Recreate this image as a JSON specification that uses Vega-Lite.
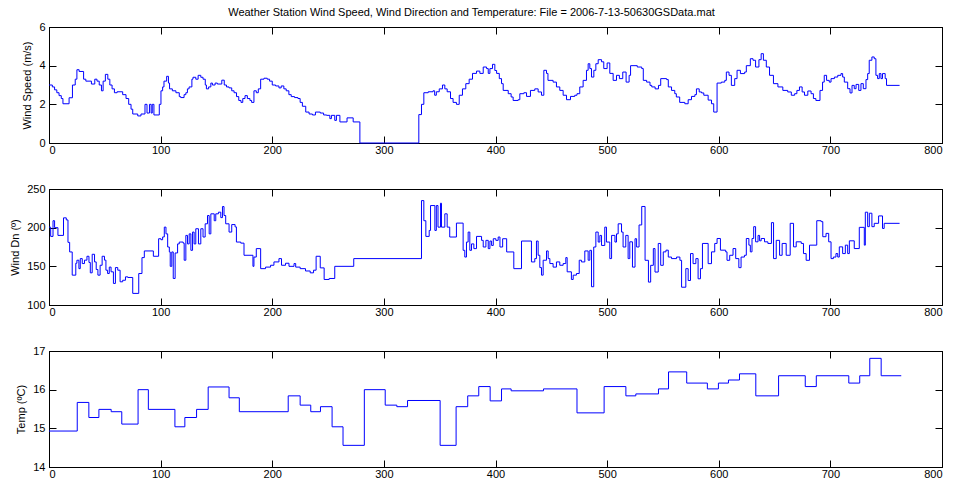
{
  "$schema": "https://vega.github.io/schema/vega-lite/v6.json",
  "autosize": {"type": "none"},
  "padding": {"left": 49, "top": 27, "right": 12, "bottom": 457},
  "background": "white",
  "title": {"text": "Weather Station Wind Speed, Wind Direction and Temperature:   File = 2006-7-13-50630GSData.mat", "fontSize": 11, "font": "Liberation Sans", "fontWeight": "normal", "color": "black", "anchor": "middle", "dx": -24, "offset": 3, "frame": "group"},
  "spacing": 26,
  "config": {
    "view": {"stroke": "black", "strokeWidth": 1},
    "axis": {"domainColor": "black", "tickColor": "black", "labelColor": "black", "labelFont": "Liberation Sans", "labelFontSize": 11, "titleFont": "Liberation Sans", "titleFontSize": 11, "titleFontWeight": "normal", "titleColor": "black", "grid": false, "tickSize": -7, "labelPadding": 11, "titlePadding": 6, "domainWidth": 1, "tickWidth": 1},
    "axisX": {"labelPadding": 8}
  },
  "datasets": {
    "speed": [
      {"t":0,"v":3.0},{"t":3,"v":2.9},{"t":5,"v":2.75},{"t":7,"v":2.6},{"t":9,"v":2.45},{"t":11,"v":2.3},{"t":12.5,"v":2.03},{"t":18,"v":2.34},{"t":21,"v":3.0},{"t":23.5,"v":3.3},{"t":25,"v":3.79},{"t":27,"v":3.7},{"t":31,"v":3.3},{"t":33,"v":3.2},{"t":38,"v":3.05},{"t":41,"v":3.3},{"t":43,"v":3.2},{"t":45,"v":3.0},{"t":47,"v":2.7},{"t":48.5,"v":3.2},{"t":50.5,"v":3.55},{"t":52.7,"v":3.3},{"t":54.5,"v":3.0},{"t":56.5,"v":2.8},{"t":58.6,"v":2.6},{"t":61,"v":2.65},{"t":66,"v":2.5},{"t":69,"v":2.3},{"t":71.4,"v":2.0},{"t":73.5,"v":1.75},{"t":75,"v":1.5},{"t":79.5,"v":1.4},{"t":82.4,"v":1.5},{"t":86,"v":2.0},{"t":87.8,"v":1.55},{"t":90,"v":2.0},{"t":91.5,"v":1.55},{"t":92.5,"v":2.0},{"t":94,"v":1.45},{"t":98.8,"v":2.0},{"t":100.3,"v":2.7},{"t":101.8,"v":2.9},{"t":103,"v":3.2},{"t":105.4,"v":3.45},{"t":107,"v":3.1},{"t":108,"v":2.8},{"t":110.5,"v":2.7},{"t":113.7,"v":2.6},{"t":116.7,"v":2.4},{"t":118,"v":2.35},{"t":121,"v":2.5},{"t":122.6,"v":2.6},{"t":124,"v":2.8},{"t":125.5,"v":2.9},{"t":128,"v":3.3},{"t":129,"v":3.4},{"t":131.5,"v":3.3},{"t":133.6,"v":3.5},{"t":136,"v":3.4},{"t":138,"v":3.3},{"t":140,"v":3.0},{"t":141,"v":2.8},{"t":143,"v":2.9},{"t":145,"v":3.1},{"t":146.4,"v":3.0},{"t":148.8,"v":3.1},{"t":150.8,"v":3.05},{"t":154.8,"v":3.25},{"t":157,"v":3.0},{"t":159,"v":2.9},{"t":161.3,"v":2.85},{"t":163.7,"v":2.7},{"t":165.8,"v":2.6},{"t":168,"v":2.4},{"t":170,"v":2.2},{"t":172,"v":2.1},{"t":173.6,"v":2.3},{"t":175.6,"v":2.45},{"t":177.7,"v":2.3},{"t":180,"v":2.2},{"t":181.5,"v":2.1},{"t":183.6,"v":2.7},{"t":185.7,"v":2.6},{"t":187.5,"v":2.8},{"t":189.6,"v":3.3},{"t":192.6,"v":3.35},{"t":195.5,"v":3.3},{"t":197.6,"v":3.2},{"t":200,"v":3.0},{"t":203,"v":2.95},{"t":206,"v":2.85},{"t":208,"v":2.95},{"t":210.4,"v":2.8},{"t":212.5,"v":2.7},{"t":214.9,"v":2.5},{"t":217,"v":2.4},{"t":220,"v":2.35},{"t":223,"v":2.3},{"t":225,"v":2.1},{"t":227,"v":1.9},{"t":230,"v":1.6},{"t":233,"v":1.5},{"t":236,"v":1.45},{"t":238.7,"v":1.6},{"t":243,"v":1.55},{"t":246,"v":1.45},{"t":248.7,"v":1.43},{"t":251.6,"v":1.26},{"t":253,"v":1.43},{"t":256,"v":1.17},{"t":257.5,"v":1.43},{"t":260.6,"v":1.09},{"t":267,"v":1.3},{"t":272.5,"v":1.09},{"t":278.5,"v":0},{"t":331.3,"v":1.47},{"t":333.7,"v":2.0},{"t":335.8,"v":2.6},{"t":339.7,"v":2.65},{"t":344,"v":2.7},{"t":345.5,"v":2.47},{"t":347,"v":2.65},{"t":349.6,"v":2.8},{"t":352.5,"v":3.0},{"t":354.6,"v":2.8},{"t":356.7,"v":2.65},{"t":359.7,"v":2.3},{"t":362,"v":2.1},{"t":365,"v":2.0},{"t":367.5,"v":2.47},{"t":370.4,"v":2.8},{"t":373.4,"v":3.07},{"t":376.4,"v":3.3},{"t":379.4,"v":3.6},{"t":383,"v":3.72},{"t":386,"v":3.6},{"t":389,"v":3.93},{"t":392,"v":3.85},{"t":393.5,"v":3.6},{"t":395,"v":3.85},{"t":397.3,"v":4.07},{"t":399.4,"v":3.75},{"t":401,"v":3.6},{"t":403.4,"v":3.33},{"t":405.4,"v":3.07},{"t":406.9,"v":2.72},{"t":411.4,"v":2.55},{"t":414,"v":2.38},{"t":415.8,"v":2.2},{"t":420.3,"v":2.24},{"t":421.8,"v":2.55},{"t":425.4,"v":2.6},{"t":427.8,"v":2.41},{"t":431.3,"v":2.72},{"t":435.2,"v":2.8},{"t":438.2,"v":2.64},{"t":441.2,"v":2.47},{"t":443.3,"v":3.76},{"t":445.7,"v":3.6},{"t":447,"v":3.24},{"t":451.6,"v":3.15},{"t":454.6,"v":2.9},{"t":457.6,"v":2.72},{"t":460.6,"v":2.47},{"t":463.6,"v":2.24},{"t":467.2,"v":2.41},{"t":471,"v":2.47},{"t":473,"v":2.55},{"t":475.5,"v":2.9},{"t":478.5,"v":3.24},{"t":481.5,"v":3.76},{"t":483,"v":4.1},{"t":484.5,"v":3.85},{"t":486,"v":3.41},{"t":488.1,"v":3.76},{"t":489.9,"v":4.1},{"t":492,"v":4.31},{"t":495,"v":4.2},{"t":497,"v":3.85},{"t":500,"v":4.14},{"t":502.4,"v":3.6},{"t":505.4,"v":3.24},{"t":508.4,"v":3.5},{"t":511,"v":3.33},{"t":514,"v":3.67},{"t":517,"v":3.15},{"t":519.7,"v":3.5},{"t":521,"v":4.0},{"t":527,"v":3.93},{"t":531,"v":3.85},{"t":532.4,"v":3.24},{"t":535.4,"v":3.15},{"t":538.4,"v":2.98},{"t":540,"v":2.9},{"t":543,"v":2.8},{"t":546,"v":2.98},{"t":548,"v":3.33},{"t":553.3,"v":3.28},{"t":554.8,"v":2.9},{"t":557.7,"v":2.72},{"t":560.6,"v":2.55},{"t":562,"v":2.38},{"t":565,"v":2.1},{"t":569.6,"v":2.03},{"t":572.6,"v":2.24},{"t":575.6,"v":2.41},{"t":578.6,"v":2.5},{"t":580,"v":2.8},{"t":582.5,"v":2.64},{"t":584.6,"v":2.59},{"t":586.6,"v":2.47},{"t":590.5,"v":2.22},{"t":593.5,"v":2.03},{"t":595.5,"v":1.6},{"t":598.5,"v":3.1},{"t":602.3,"v":3.15},{"t":605.4,"v":3.24},{"t":606.8,"v":3.67},{"t":609.2,"v":3.5},{"t":611.3,"v":2.98},{"t":614.3,"v":3.33},{"t":616.4,"v":3.76},{"t":619.4,"v":3.59},{"t":623.2,"v":3.67},{"t":624.7,"v":4.0},{"t":628.3,"v":4.36},{"t":630.7,"v":4.28},{"t":633,"v":3.93},{"t":636,"v":4.31},{"t":638,"v":4.62},{"t":640,"v":4.28},{"t":642.6,"v":3.93},{"t":645.5,"v":3.5},{"t":649,"v":3.07},{"t":653,"v":2.9},{"t":657.4,"v":2.72},{"t":661.8,"v":2.64},{"t":665,"v":2.47},{"t":668,"v":2.55},{"t":670,"v":2.72},{"t":672.3,"v":2.9},{"t":674.7,"v":2.64},{"t":676.8,"v":2.47},{"t":679.8,"v":2.69},{"t":682.7,"v":2.55},{"t":684.8,"v":2.3},{"t":687,"v":2.2},{"t":690.7,"v":2.72},{"t":693,"v":3.15},{"t":694.5,"v":3.5},{"t":696.6,"v":3.24},{"t":699,"v":3.15},{"t":700.6,"v":3.33},{"t":703.6,"v":3.41},{"t":706.6,"v":3.5},{"t":709.5,"v":3.59},{"t":711,"v":3.41},{"t":712.5,"v":3.15},{"t":715.5,"v":2.81},{"t":717.6,"v":2.59},{"t":719.4,"v":2.98},{"t":721.4,"v":2.81},{"t":723,"v":3.03},{"t":725.4,"v":2.72},{"t":727.4,"v":3.07},{"t":729.5,"v":2.81},{"t":731.9,"v":3.28},{"t":733.4,"v":3.59},{"t":734.8,"v":4.28},{"t":737.2,"v":4.45},{"t":739.3,"v":4.36},{"t":740.8,"v":3.5},{"t":742.3,"v":3.33},{"t":743.8,"v":3.59},{"t":745.3,"v":3.33},{"t":746.7,"v":3.59},{"t":749.1,"v":3.33},{"t":750.3,"v":2.98},{"t":762,"v":2.98}
    ],
    "dir": [
      {"t":0,"v":200.7},{"t":1.5,"v":188.7},{"t":3.6,"v":209},{"t":5,"v":200},{"t":8,"v":190},{"t":13,"v":212.7},{"t":15.5,"v":210},{"t":17,"v":181},{"t":18.5,"v":168.6},{"t":20.8,"v":138.6},{"t":24,"v":154},{"t":25,"v":157.9},{"t":26.8,"v":147},{"t":28,"v":160},{"t":29.8,"v":153.6},{"t":31.8,"v":158},{"t":34,"v":163},{"t":35.8,"v":155},{"t":37,"v":141.6},{"t":38.7,"v":165.6},{"t":40.8,"v":155.7},{"t":42.3,"v":145.9},{"t":43.8,"v":138.6},{"t":45.8,"v":151.4},{"t":47.6,"v":163},{"t":49.7,"v":158},{"t":51,"v":145},{"t":52.5,"v":140.7},{"t":54,"v":149},{"t":55.6,"v":142.9},{"t":57.7,"v":127.9},{"t":59.5,"v":148.4},{"t":61.6,"v":145},{"t":63.7,"v":130},{"t":66,"v":132},{"t":68.5,"v":136.4},{"t":70.6,"v":135.6},{"t":75,"v":115},{"t":80.4,"v":140.7},{"t":83.3,"v":161.3},{"t":85.4,"v":169.9},{"t":93.5,"v":163},{"t":98.2,"v":185.7},{"t":100.3,"v":184.4},{"t":101.8,"v":188},{"t":103.3,"v":200.7},{"t":104.8,"v":192},{"t":106.3,"v":175},{"t":107.8,"v":168.6},{"t":108.6,"v":150},{"t":110,"v":168.6},{"t":111.3,"v":134.3},{"t":113,"v":167.3},{"t":115.2,"v":179},{"t":116.7,"v":181.4},{"t":120.2,"v":180},{"t":121.1,"v":157.9},{"t":122.6,"v":190},{"t":124.1,"v":179},{"t":125.6,"v":192},{"t":127.1,"v":170.7},{"t":128.6,"v":194.3},{"t":130,"v":179},{"t":131.5,"v":198.6},{"t":133.9,"v":179},{"t":136,"v":198.6},{"t":138,"v":187.9},{"t":139.9,"v":205},{"t":142,"v":215.7},{"t":143.5,"v":192},{"t":145,"v":217.9},{"t":148,"v":209},{"t":149.4,"v":217.9},{"t":151.8,"v":220},{"t":153.9,"v":213},{"t":155.4,"v":227.3},{"t":156.8,"v":215.7},{"t":158.3,"v":205},{"t":161.3,"v":194.3},{"t":163.7,"v":204},{"t":166.7,"v":201},{"t":167.9,"v":181.4},{"t":171.8,"v":180},{"t":174.7,"v":164.3},{"t":182.7,"v":150},{"t":183.6,"v":162},{"t":185.7,"v":172.9},{"t":189.6,"v":147},{"t":194,"v":149},{"t":198.5,"v":151.4},{"t":201.5,"v":155.7},{"t":206,"v":160},{"t":208.3,"v":151.4},{"t":211.9,"v":154},{"t":215,"v":150},{"t":219.5,"v":153.6},{"t":221,"v":149},{"t":225,"v":147},{"t":229.8,"v":144},{"t":234,"v":141.6},{"t":237,"v":145},{"t":239.3,"v":163},{"t":243,"v":148},{"t":246.5,"v":133},{"t":251,"v":134.3},{"t":256,"v":150},{"t":273,"v":160},{"t":333.7,"v":235},{"t":335.8,"v":209},{"t":337.6,"v":188.7},{"t":340.6,"v":196.4},{"t":341.8,"v":228.6},{"t":345.7,"v":196.4},{"t":347,"v":228.6},{"t":348.5,"v":200.7},{"t":350.7,"v":231.6},{"t":351.6,"v":200.7},{"t":354.6,"v":217.9},{"t":356.7,"v":200.7},{"t":359,"v":187.9},{"t":365,"v":205.9},{"t":371,"v":170.7},{"t":372.5,"v":162},{"t":374,"v":181.4},{"t":375.5,"v":194.3},{"t":377,"v":170.7},{"t":378.5,"v":179},{"t":380.6,"v":172.9},{"t":383,"v":188.7},{"t":387.5,"v":183.6},{"t":389,"v":175},{"t":391.4,"v":183.6},{"t":393.5,"v":172.9},{"t":395,"v":182.7},{"t":396.5,"v":177},{"t":398,"v":185.7},{"t":400.3,"v":183.6},{"t":402.4,"v":187.9},{"t":404,"v":175},{"t":406.4,"v":185.7},{"t":410,"v":168.6},{"t":416.4,"v":147},{"t":423.3,"v":182.7},{"t":432.2,"v":155.7},{"t":435.2,"v":160},{"t":436.7,"v":182.7},{"t":438.2,"v":164.3},{"t":439.7,"v":148.4},{"t":441.2,"v":138.6},{"t":442.7,"v":157.9},{"t":445.7,"v":169.9},{"t":447.2,"v":160},{"t":448.7,"v":153.6},{"t":451.6,"v":149},{"t":454.6,"v":155.7},{"t":457.6,"v":151.4},{"t":460.6,"v":153.6},{"t":463,"v":161.3},{"t":464.2,"v":142.9},{"t":468,"v":133},{"t":469.6,"v":138.6},{"t":472.5,"v":140.7},{"t":475,"v":157.9},{"t":477,"v":155.7},{"t":480,"v":169.9},{"t":483,"v":157.9},{"t":484.5,"v":170.7},{"t":486,"v":123.6},{"t":488,"v":175},{"t":489.9,"v":194.3},{"t":492,"v":181.4},{"t":493.5,"v":190},{"t":495,"v":177},{"t":497.9,"v":200.7},{"t":499.4,"v":181.4},{"t":502.4,"v":160},{"t":504,"v":190},{"t":507,"v":181.4},{"t":508.4,"v":192},{"t":509.9,"v":205},{"t":512.9,"v":194.3},{"t":514.3,"v":175},{"t":516.7,"v":190},{"t":518.8,"v":160},{"t":520.3,"v":181.7},{"t":522.7,"v":149},{"t":525,"v":185.7},{"t":526.4,"v":175},{"t":528.6,"v":203.5},{"t":531,"v":227.4},{"t":534,"v":157.8},{"t":537,"v":129.6},{"t":539,"v":151.3},{"t":541.4,"v":173},{"t":542.9,"v":142.6},{"t":545.8,"v":179.6},{"t":548,"v":151.3},{"t":550.3,"v":168.7},{"t":552.7,"v":170.9},{"t":554.8,"v":162},{"t":557.7,"v":160},{"t":562.2,"v":162},{"t":565.2,"v":157.8},{"t":566.7,"v":123},{"t":570.5,"v":147},{"t":572.6,"v":131.7},{"t":574.7,"v":166.5},{"t":577,"v":153.5},{"t":579.5,"v":160},{"t":581.5,"v":133.9},{"t":583.6,"v":147},{"t":585.4,"v":179.6},{"t":590.5,"v":153.5},{"t":593.5,"v":168.7},{"t":596.4,"v":179.6},{"t":598.5,"v":186},{"t":601.5,"v":170.9},{"t":606.2,"v":168.7},{"t":607.4,"v":157.8},{"t":609.8,"v":164.3},{"t":612.8,"v":173},{"t":615.2,"v":160},{"t":618,"v":148.3},{"t":620,"v":162},{"t":623,"v":164.3},{"t":624.7,"v":186},{"t":627,"v":177.4},{"t":628.3,"v":168.7},{"t":629.8,"v":186},{"t":631.3,"v":201.3},{"t":633,"v":181.7},{"t":635.2,"v":190},{"t":636.6,"v":183},{"t":638,"v":186},{"t":641,"v":181.7},{"t":644,"v":179.6},{"t":647.2,"v":206.5},{"t":649.1,"v":160},{"t":651.5,"v":183.6},{"t":654.5,"v":164.3},{"t":656.8,"v":179.6},{"t":660.4,"v":164.3},{"t":664,"v":205.6},{"t":667,"v":175.2},{"t":669.4,"v":181.7},{"t":673.9,"v":179.6},{"t":675.9,"v":166.5},{"t":678.3,"v":157.8},{"t":681.3,"v":177.4},{"t":687.8,"v":209},{"t":691.7,"v":207.8},{"t":693.2,"v":188.3},{"t":696.1,"v":192.6},{"t":698.5,"v":181.7},{"t":700.6,"v":160},{"t":702.7,"v":162},{"t":705,"v":166.5},{"t":706.6,"v":162},{"t":708,"v":175.2},{"t":711,"v":166.5},{"t":713.4,"v":177.4},{"t":715.5,"v":166.5},{"t":717,"v":183},{"t":721.4,"v":173},{"t":725.9,"v":200.4},{"t":730.4,"v":177.4},{"t":731.3,"v":220},{"t":733.4,"v":201.3},{"t":734.9,"v":218.7},{"t":737.2,"v":201.3},{"t":739.3,"v":205.6},{"t":743.2,"v":215.2},{"t":746.7,"v":199},{"t":748.2,"v":205.6},{"t":762,"v":205.6}
    ],
    "temp": [
      {"t":0,"v":14.93},{"t":25.3,"v":15.67},{"t":35.7,"v":15.28},{"t":44.7,"v":15.49},{"t":55.7,"v":15.43},{"t":65.2,"v":15.11},{"t":79.8,"v":16.0},{"t":89,"v":15.49},{"t":112.8,"v":15.04},{"t":121.7,"v":15.28},{"t":132.2,"v":15.49},{"t":142.6,"v":16.07},{"t":161.3,"v":15.79},{"t":170.5,"v":15.43},{"t":214.3,"v":15.84},{"t":225,"v":15.6},{"t":234.5,"v":15.43},{"t":243.2,"v":15.56},{"t":253.6,"v":15.04},{"t":263.4,"v":14.56},{"t":282.5,"v":16.0},{"t":301.2,"v":15.6},{"t":311.6,"v":15.56},{"t":321.2,"v":15.72},{"t":350.4,"v":14.56},{"t":364.7,"v":15.56},{"t":375.1,"v":15.84},{"t":385,"v":16.08},{"t":395.2,"v":15.71},{"t":405.4,"v":16.02},{"t":414,"v":15.97},{"t":443,"v":16.02},{"t":473,"v":15.4},{"t":497.3,"v":16.08},{"t":516.8,"v":15.84},{"t":525.7,"v":15.89},{"t":546,"v":16.02},{"t":555,"v":16.46},{"t":571.3,"v":16.17},{"t":589.8,"v":16.02},{"t":599.7,"v":16.17},{"t":608.7,"v":16.25},{"t":618.6,"v":16.41},{"t":633.2,"v":15.84},{"t":653.6,"v":16.36},{"t":677.5,"v":16.08},{"t":687.4,"v":16.36},{"t":716.5,"v":16.17},{"t":726.3,"v":16.36},{"t":735.3,"v":16.81},{"t":745.5,"v":16.36},{"t":763.5,"v":16.36}
    ]
  },
  "vconcat": [
    {
      "width": 893, "height": 116,
      "data": {"name": "speed"},
      "layer": [
        {"mark": {"type": "line", "interpolate": "step-after", "color": "#0000ff", "strokeWidth": 1},
         "encoding": {
           "x": {"field": "t", "type": "quantitative", "scale": {"domain": [0, 800], "nice": false, "zero": false}, "axis": {"values": [0,100,200,300,400,500,600,700,800], "title": null}},
           "y": {"field": "v", "type": "quantitative", "scale": {"domain": [0, 6], "nice": false, "zero": false}, "axis": {"values": [0,2,4,6], "title": "Wind Speed (m/s)"}}
         }},
        {"mark": {"type": "line", "interpolate": "step-after", "opacity": 0},
         "encoding": {
           "x": {"field": "t", "type": "quantitative", "axis": {"orient": "top", "labels": false, "values": [0,100,200,300,400,500,600,700,800], "title": null}},
           "y": {"field": "v", "type": "quantitative", "axis": {"orient": "right", "labels": false, "values": [0,2,4,6], "title": null}}
         }}
      ],
      "resolve": {"axis": {"x": "independent", "y": "independent"}}
    },
    {
      "width": 893, "height": 116,
      "data": {"name": "dir"},
      "layer": [
        {"mark": {"type": "line", "interpolate": "step-after", "color": "#0000ff", "strokeWidth": 1},
         "encoding": {
           "x": {"field": "t", "type": "quantitative", "scale": {"domain": [0, 800], "nice": false, "zero": false}, "axis": {"values": [0,100,200,300,400,500,600,700,800], "title": null}},
           "y": {"field": "v", "type": "quantitative", "scale": {"domain": [100, 250], "nice": false, "zero": false}, "axis": {"values": [100,150,200,250], "title": "Wind Dn (º)"}}
         }},
        {"mark": {"type": "line", "interpolate": "step-after", "opacity": 0},
         "encoding": {
           "x": {"field": "t", "type": "quantitative", "axis": {"orient": "top", "labels": false, "values": [0,100,200,300,400,500,600,700,800], "title": null}},
           "y": {"field": "v", "type": "quantitative", "axis": {"orient": "right", "labels": false, "values": [100,150,200,250], "title": null}}
         }}
      ],
      "resolve": {"axis": {"x": "independent", "y": "independent"}}
    },
    {
      "width": 893, "height": 116,
      "data": {"name": "temp"},
      "layer": [
        {"mark": {"type": "line", "interpolate": "step-after", "color": "#0000ff", "strokeWidth": 1},
         "encoding": {
           "x": {"field": "t", "type": "quantitative", "scale": {"domain": [0, 800], "nice": false, "zero": false}, "axis": {"values": [0,100,200,300,400,500,600,700,800], "title": null}},
           "y": {"field": "v", "type": "quantitative", "scale": {"domain": [14, 17], "nice": false, "zero": false}, "axis": {"values": [14,15,16,17], "title": "Temp (ºC)"}}
         }},
        {"mark": {"type": "line", "interpolate": "step-after", "opacity": 0},
         "encoding": {
           "x": {"field": "t", "type": "quantitative", "axis": {"orient": "top", "labels": false, "values": [0,100,200,300,400,500,600,700,800], "title": null}},
           "y": {"field": "v", "type": "quantitative", "axis": {"orient": "right", "labels": false, "values": [14,15,16,17], "title": null}}
         }}
      ],
      "resolve": {"axis": {"x": "independent", "y": "independent"}}
    }
  ]
}
